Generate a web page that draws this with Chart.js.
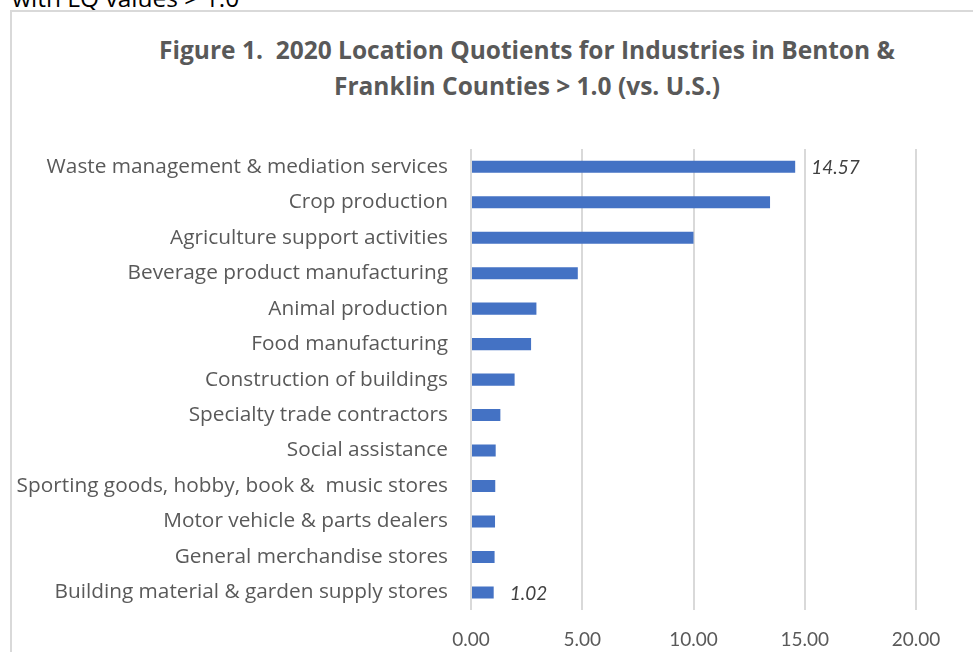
<!DOCTYPE html>
<html>
<head>
<meta charset="utf-8">
<script src="https://cdn.jsdelivr.net/npm/chart.js@4/dist/chart.umd.min.js"></script>
<style>
  html, body { margin: 0; padding: 0; width: 973px; height: 652px; overflow: hidden; background: #fff; }
  #lead { position: absolute; left: 12px; top: -19px; font: 24.5px 'Open Sans', sans-serif; color: #000; white-space: nowrap; }
  #frame { position: absolute; left: 10px; top: 10px; width: 1100px; height: 800px; border: 2px solid #d9d9d9; }
  #chartTitle { position: absolute; left: 0; top: 32px; width: 1054px; text-align: center;
                font: bold 24.5px/36px 'Open Sans', sans-serif; color: #595959; white-space: pre; }
  #chartEl { position: absolute; left: 11px; top: 11px; }
</style>
</head>
<body>
<div id="lead">with LQ values &gt; 1.0</div>
<div id="frame"></div>
<div id="chartTitle"></div>
<canvas id="chartEl" width="1032" height="658"></canvas>
<script>
/************ DATA ************/
const industries = [
    "Waste management & mediation services",
    "Crop production",
    "Agriculture support activities",
    "Beverage product manufacturing",
    "Animal production",
    "Food manufacturing",
    "Construction of buildings",
    "Specialty trade contractors",
    "Social assistance",
    "Sporting goods, hobby, book &  music stores",
    "Motor vehicle & parts dealers",
    "General merchandise stores",
    "Building material & garden supply stores"
];
const lqValues = [14.57, 13.44, 10.0, 4.8, 2.94, 2.70, 1.96, 1.32, 1.11, 1.09, 1.08, 1.06, 1.02];
const labeledBars = [0, 12];   // only the top and bottom bars carry a value label
const xTicks = [0, 5, 10, 15, 20];
const titleLines = [
    "Figure 1.  2020 Location Quotients for Industries in Benton &",
    "Franklin Counties > 1.0 (vs. U.S.)"
];

const TEXT_FONT = "'Open Sans', sans-serif";
const NUM_FONT = "Lato, sans-serif";
const GREY = "#595959";

/************ TITLE ************/
// title sits centred over the whole frame, so it lives outside the canvas
titleLines.forEach((line, i) => {
    if (i) chartTitle.appendChild(document.createElement("br"));
    chartTitle.appendChild(document.createTextNode(line));
});

/************ VALUE LABELS ************/
const valueLabels = {
    id: "valueLabels",
    afterDatasetsDraw(chart) {
        const ctx = chart.ctx;
        const meta = chart.getDatasetMeta(0);
        ctx.save();
        ctx.font = "italic 19px " + NUM_FONT;
        ctx.fillStyle = "#404040";
        ctx.textBaseline = "middle";
        ctx.textAlign = "left";
        labeledBars.forEach(i => {
            const bar = meta.data[i];
            ctx.fillText(lqValues[i].toFixed(2), bar.x + 16, bar.y + 1);
        });
        ctx.restore();
    }
};

/************ CHART ************/
new Chart(chartEl, {
    type: "bar",
    data: {
        labels: industries,
        datasets: [{
            data: lqValues,
            backgroundColor: "#4472C4",
            barPercentage: 0.34,
            categoryPercentage: 1.0
        }]
    },
    options: {
        indexAxis: "y",
        responsive: false,
        animation: false,
        layout: { padding: { left: 0, right: 127, top: 138, bottom: 0 } },
        plugins: {
            legend: { display: false },
            tooltip: { enabled: false },
            title: { display: false }
        },
        scales: {
            x: {
                min: 0,
                max: 20,
                afterBuildTicks: s => { s.ticks = xTicks.map(v => ({ value: v })); },
                ticks: {
                    callback: v => Number(v).toFixed(2),
                    color: GREY,
                    font: { family: NUM_FONT, size: 19 },
                    padding: 18,
                    maxRotation: 0
                },
                grid: { color: "#d9d9d9", lineWidth: 2, drawTicks: false },
                border: { display: false }
            },
            y: {
                afterFit: s => { s.width = 460; },
                ticks: {
                    color: GREY,
                    font: { family: TEXT_FONT, size: 20.8 },
                    padding: 23,
                    autoSkip: false
                },
                grid: { display: false, drawTicks: false },
                border: { display: false }
            }
        }
    },
    plugins: [valueLabels]
});
</script>
</body>
</html>
